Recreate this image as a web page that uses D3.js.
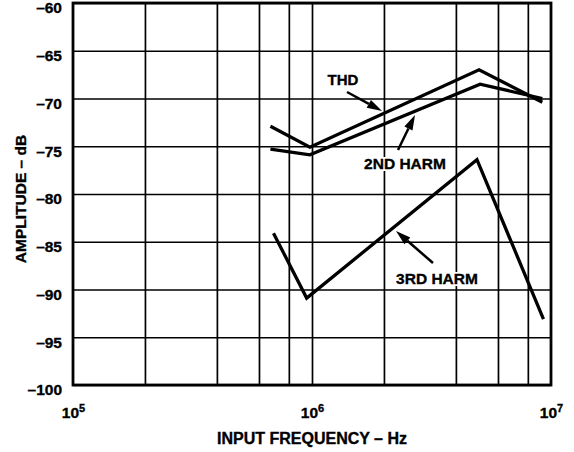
<!DOCTYPE html>
<html><head><meta charset="utf-8">
<script src="https://cdn.jsdelivr.net/npm/d3@7"></script>
<style>
body{margin:0;background:#fff;}
svg{display:block;font-family:"Liberation Sans",Arial,Helvetica,sans-serif;font-weight:bold;}
svg text{stroke:#000;stroke-width:0.35px;}
</style></head><body>
<div id="chart"></div>
<script>
// ---- data ----
const thdFreq   = [6.7e5, 9.8e5, 5.0e6, 9.2e6];
const thdDb     = [-72.9, -75.1, -67.0, -70.4];
const h2Freq    = [6.7e5, 9.8e5, 5.05e6, 9.2e6];
const h2Db      = [-75.3, -75.9, -68.5, -70.0];
const h3Freq    = [6.9e5, 9.5e5, 4.9e6, 9.3e6];
const h3Db      = [-84.1, -90.9, -76.4, -93.1];
const xGridTicks = [2e5, 4e5, 6e5, 8e5, 1e6, 2e6, 4e6, 6e6, 8e6];
const xLabelTicks = [1e5, 1e6, 1e7];
const xLabelExps  = ["5", "6", "7"];
const yTicks = [-60, -65, -70, -75, -80, -85, -90, -95, -100];
const yLabel = "AMPLITUDE – dB";
const xLabel = "INPUT FREQUENCY – Hz";
const seriesLabels = ["THD", "2ND HARM", "3RD HARM"];

// ---- layout ----
const W = 574, H = 452;
const L = 73, R = 551, T = 3, B = 385;
const svg = d3.select("#chart").append("svg").attr("width", W).attr("height", H);

const x = d3.scaleLog().domain([1e5, 1e7]).range([L, R]);
const y = d3.scaleLinear().domain([-100, -60]).range([B, T]);

// grid via axes
const gx = svg.append("g").attr("transform", `translate(0,${B})`)
  .call(d3.axisBottom(x).tickValues(xGridTicks).tickSize(-(B - T)).tickFormat(""));
gx.select(".domain").remove();
gx.selectAll("line").attr("stroke", "#000").attr("stroke-width", 1.7);

const gy = svg.append("g").attr("transform", `translate(${L},0)`)
  .call(d3.axisLeft(y).tickValues(yTicks).tickSize(-(R - L)).tickPadding(11)
    .tickFormat(d => "–" + Math.abs(d)));
gy.select(".domain").remove();
gy.selectAll("line").attr("stroke", "#000").attr("stroke-width", 1.7);
gy.selectAll("text").attr("font-size", 15.5).attr("font-weight", "bold")
  .attr("font-family", "Liberation Sans, Arial, sans-serif").attr("fill", "#000")
  .attr("dy", "0.32em").attr("transform", "translate(0,5)");

// x labels via axis
const gxl = svg.append("g").attr("transform", `translate(0,${B})`)
  .call(d3.axisBottom(x).tickValues(xLabelTicks).tickSize(0).tickPadding(0).tickFormat(""));
gxl.select(".domain").remove();
gxl.selectAll(".tick").each(function(d, i) {
  const t = d3.select(this).append("text").attr("y", 33).attr("text-anchor", "middle")
    .attr("font-size", 15.5).attr("font-weight", "bold").attr("fill", "#000")
    .attr("font-family", "Liberation Sans, Arial, sans-serif");
  t.append("tspan").text("10");
  t.append("tspan").attr("dy", -6).attr("font-size", 11).text(xLabelExps[i]);
});

// border
svg.append("rect").attr("x", L).attr("y", T).attr("width", R - L).attr("height", B - T)
  .attr("fill", "none").attr("stroke", "#000").attr("stroke-width", 2.8);

// axis titles
svg.append("text").attr("x", (L + R) / 2).attr("y", 444).attr("text-anchor", "middle")
  .attr("font-size", 16).text(xLabel);
svg.append("text").attr("transform", `translate(26,199) rotate(-90)`).attr("text-anchor", "middle")
  .attr("font-size", 15.5).text(yLabel);

// labels with white background
function label(txt, cx, by, size) {
  const t = svg.append("text").attr("x", cx).attr("y", by).attr("text-anchor", "middle")
    .attr("font-size", size).text(txt);
  const bb = t.node().getBBox();
  svg.insert("rect", () => t.node()).attr("x", bb.x - 2).attr("y", bb.y + 2)
    .attr("width", bb.width + 4).attr("height", bb.height - 3).attr("fill", "#fff");
}
label(seriesLabels[0], 343, 85, 15);
label(seriesLabels[1], 405, 169, 15.5);
label(seriesLabels[2], 437, 284, 15.5);

// series
const line = d3.line().x(d => x(d[0])).y(d => y(d[1]));
[[thdFreq, thdDb], [h2Freq, h2Db], [h3Freq, h3Db]].forEach(([f, v]) => {
  svg.append("path").datum(f.map((fr, i) => [fr, v[i]])).attr("d", line)
    .attr("fill", "none").attr("stroke", "#000").attr("stroke-width", 3.3)
    .attr("stroke-linejoin", "miter");
});

// arrows (pointers to curves)
function arrow(x1, y1, x2, y2) {
  const ang = Math.atan2(y2 - y1, x2 - x1);
  const len = 15, hw = 4.5;
  const bx = x2 - len * Math.cos(ang), by = y2 - len * Math.sin(ang);
  svg.append("line").attr("x1", x1).attr("y1", y1).attr("x2", bx).attr("y2", by)
    .attr("stroke", "#000").attr("stroke-width", 2.5);
  const px = -Math.sin(ang) * hw, py = Math.cos(ang) * hw;
  svg.append("path").attr("d", `M${x2},${y2}L${bx + px},${by + py}L${bx - px},${by - py}Z`)
    .attr("fill", "#000");
}
arrow(347, 92, 382, 111);
arrow(398, 150, 415, 115);
arrow(433, 263, 396, 231);
</script></body></html>
